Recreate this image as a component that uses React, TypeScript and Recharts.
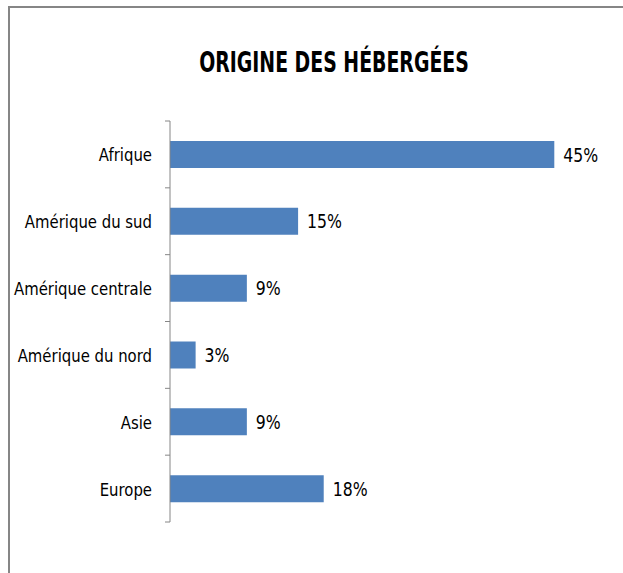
import { BarChart, Bar, XAxis, YAxis, LabelList } from "recharts";

const regions = ["Afrique", "Amérique du sud", "Amérique centrale", "Amérique du nord", "Asie", "Europe"];
const shares = [45, 15, 9, 3, 9, 18];

const data = regions.map((name, i) => ({ name, value: shares[i] }));

const W = 623;
const H = 573;
const TOP = 121;
const BOTTOM = 51;
const AXIS_X = 170;
const RIGHT = 26;
const band = (H - TOP - BOTTOM) / regions.length;
const font = "'DejaVu Sans Condensed', sans-serif";

// Excel-like narrow text: condensed font squeezed a bit more horizontally
function CategoryTick(props: any) {
  const { y, payload, index } = props;
  const top = y - band / 2;
  return (
    <g>
      <line x1={AXIS_X - 5} x2={AXIS_X} y1={top} y2={top} stroke="#868686" />
      {index === regions.length - 1 && (
        <line x1={AXIS_X - 5} x2={AXIS_X} y1={top + band} y2={top + band} stroke="#868686" />
      )}
      <text
        transform={`translate(${AXIS_X - 18},${y + 7}) scale(0.92,1)`}
        textAnchor="end"
        fill="#000"
        fontSize={18}
        fontFamily={font}
      >
        {payload.value}
      </text>
    </g>
  );
}

function ValueLabel(props: any) {
  const { x, y, width, height, value } = props;
  return (
    <text
      transform={`translate(${x + width + 9},${y + height / 2 + 7}) scale(0.92,1)`}
      fill="#000"
      fontSize={19}
      fontFamily={font}
    >
      {`${value}%`}
    </text>
  );
}

export default function App() {
  return (
    <div style={{ position: "absolute", left: 0, top: 0, width: W, height: H, background: "#fff" }}>
      <div style={{ position: "absolute", left: 8, top: 6, width: W - 8, height: 2, background: "#868686" }} />
      <div style={{ position: "absolute", left: 8, top: 6, width: 2, height: H - 6, background: "#868686" }} />
      <svg width={W} height={100} style={{ position: "absolute", left: 0, top: 0 }}>
        <text
          transform="translate(334,72) scale(0.75,1)"
          textAnchor="middle"
          fontFamily={font}
          fontWeight="bold"
          fontSize={28}
          fill="#000"
        >
          ORIGINE DES HÉBERGÉES
        </text>
      </svg>
      <div style={{ position: "absolute", left: 0, top: 0 }}>
        <BarChart
          width={W}
          height={H}
          data={data}
          layout="vertical"
          margin={{ top: TOP, bottom: BOTTOM, left: 0, right: RIGHT }}
        >
          <XAxis type="number" domain={[0, 50]} hide />
          <YAxis
            type="category"
            dataKey="name"
            width={AXIS_X}
            axisLine={{ stroke: "#868686" }}
            tickLine={false}
            tick={<CategoryTick />}
            interval={0}
          />
          <Bar dataKey="value" fill="#4F81BD" barSize={27} isAnimationActive={false}>
            <LabelList dataKey="value" content={<ValueLabel />} />
          </Bar>
        </BarChart>
      </div>
    </div>
  );
}
